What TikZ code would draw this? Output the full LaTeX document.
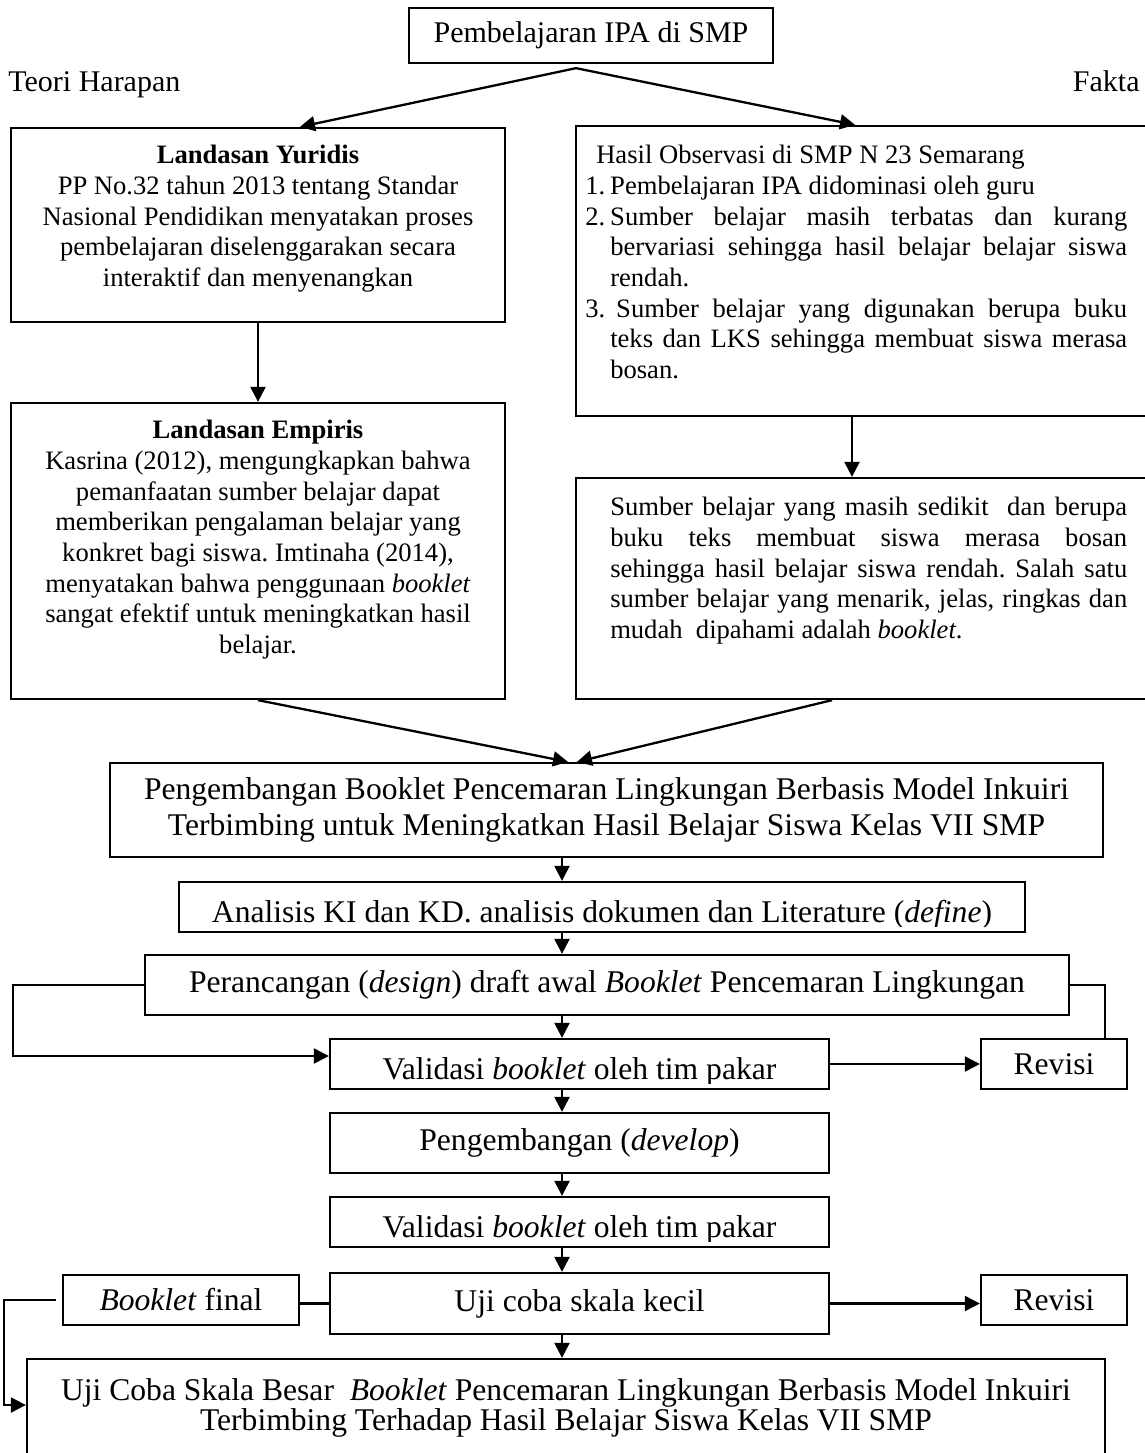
\documentclass[tikz,border=0pt]{standalone}
\usepackage{fontspec}
\setmainfont{Liberation Serif}
\usetikzlibrary{arrows.meta}
\begin{document}
\begin{tikzpicture}[x=0.5pt,y=-0.5pt,
  box/.style={draw,line width=1.15pt,inner sep=0pt,align=center},
  conn/.style={line width=1.15pt},
  arr/.style={conn,-{Triangle[length=7.5pt,width=7.5pt]}},
  body/.style={font=\fontsize{13.3pt}{15.35pt}\selectfont\frenchspacing},
  big/.style={font=\fontsize{15.8pt}{18.2pt}\selectfont\frenchspacing},
  lab/.style={font=\fontsize{15pt}{17.25pt}\selectfont},
  txt/.style={inner sep=0pt},
]
\useasboundingbox (0,0) rectangle (1145,1453);

% top
\node[box,lab,minimum width=182pt,minimum height=27.5pt] (top) at (591,35.5) {Pembelajaran IPA di SMP};
\node[lab,txt,anchor=base west] (teori) at (8,91) {Teori Harapan};
\node[lab,txt,anchor=base east] (fakta) at (1140,91) {Fakta};

% left column
\node[box,minimum width=247pt,minimum height=97pt] (yur) at (258,225) {};
\node[body,txt,align=center,anchor=north] (yurt) at ([yshift=-9pt]yur.north)
  {\textbf{Landasan Yuridis}\\PP No.32 tahun 2013 tentang Standar\\Nasional Pendidikan menyatakan proses\\pembelajaran diselenggarakan secara\\interaktif dan menyenangkan};

\node[box,minimum width=247pt,minimum height=148pt] (emp) at (258,551) {};
\node[body,txt,align=center,anchor=north] (empt) at ([yshift=-9pt]emp.north)
  {\textbf{Landasan Empiris}\\Kasrina (2012), mengungkapkan bahwa\\pemanfaatan sumber belajar dapat\\memberikan pengalaman belajar yang\\konkret bagi siswa. Imtinaha (2014),\\menyatakan bahwa penggunaan \emph{booklet}\\sangat efektif untuk meningkatkan hasil\\belajar.};

% right column
\node[box,minimum width=292pt,minimum height=145pt] (has) at (868,271) {};
\node[body,txt,align=left,anchor=north west] (hast) at ([xshift=5pt,yshift=-10pt]has.north west)
  {\hspace*{5.5pt}Hasil Observasi di SMP N 23 Semarang\\
   \makebox[12.5pt][l]{1.}Pembelajaran IPA didominasi oleh guru\\
   \makebox[12.5pt][l]{2.}\makebox[258.5pt][s]{Sumber belajar masih terbatas dan kurang}\\
   \hspace*{12.5pt}\makebox[258.5pt][s]{bervariasi sehingga hasil belajar belajar siswa}\\
   \hspace*{12.5pt}rendah.\\
   \makebox[12.5pt][l]{3.}\makebox[258.5pt][s]{\hspace{3pt}Sumber belajar yang digunakan berupa buku}\\
   \hspace*{12.5pt}\makebox[258.5pt][s]{teks dan LKS sehingga membuat siswa merasa}\\
   \hspace*{12.5pt}bosan.};

\node[box,minimum width=292pt,minimum height=110.5pt] (sum) at (868,588.5) {};
\node[body,txt,align=left,anchor=north west] (sumt) at ([xshift=17.5pt,yshift=-10pt]sum.north west)
  {\makebox[258.5pt][s]{Sumber belajar yang masih sedikit\ \ dan berupa}\\
   \makebox[258.5pt][s]{buku teks membuat siswa merasa bosan}\\
   \makebox[258.5pt][s]{sehingga hasil belajar siswa rendah. Salah satu}\\
   \makebox[258.5pt][s]{sumber belajar yang menarik, jelas, ringkas dan}\\
   mudah\ \ dipahami adalah \emph{booklet}.};

% lower chain
\node[box,big,minimum width=496.5pt,minimum height=47pt] (big) at (606.5,810)
  {Pengembangan Booklet Pencemaran Lingkungan Berbasis Model Inkuiri\\Terbimbing untuk Meningkatkan Hasil Belajar Siswa Kelas VII SMP};
\node[box,minimum width=423pt,minimum height=25pt] (ana) at (602,907) {};
\begin{scope}
  \clip (ana.north west) rectangle ([yshift=3.5pt]ana.south east);
  \node[big,txt,anchor=base] (anat) at ([yshift=5.5pt]ana.south) {Analisis KI dan KD. analisis dokumen dan Literature (\emph{define})};
\end{scope}
\node[box,big,minimum width=462pt,minimum height=30pt] (per) at (607,985)
  {Perancangan (\emph{design}) draft awal \emph{Booklet} Pencemaran Lingkungan};
\node[box,minimum width=249.5pt,minimum height=25pt] (val1) at (579.5,1064) {};
\begin{scope}
  \clip (val1.north west) rectangle ([yshift=3.5pt]val1.south east);
  \node[big,txt,anchor=base] (val1t) at ([yshift=5.5pt]val1.south) {Validasi \emph{booklet} oleh tim pakar};
\end{scope}
\node[box,big,minimum width=73pt,minimum height=25pt] (rev1) at (1054,1064) {Revisi};
\node[box,big,minimum width=249.5pt,minimum height=30pt] (dev) at (579.5,1143) {Pengembangan (\emph{develop})};
\node[box,minimum width=249.5pt,minimum height=25pt] (val2) at (579.5,1222) {};
\begin{scope}
  \clip (val2.north west) rectangle ([yshift=3.5pt]val2.south east);
  \node[big,txt,anchor=base] (val2t) at ([yshift=5.5pt]val2.south) {Validasi \emph{booklet} oleh tim pakar};
\end{scope}
\node[box,big,minimum width=249.5pt,minimum height=30.5pt] (uji) at (579.5,1303.5) {Uji coba skala kecil};
\node[box,big,minimum width=73pt,minimum height=25pt] (rev2) at (1054,1300) {Revisi};
\node[box,big,minimum width=118pt,minimum height=25pt] (fin) at (181,1300) {\emph{Booklet} final};
\node[box,minimum width=539pt,minimum height=60.5pt] (bes) at (566,1419.5) {};
\node[txt,align=center,font=\fontsize{15.8pt}{15pt}\selectfont] (best) at (566,1408)
  {Uji Coba Skala Besar\ \ \emph{Booklet} Pencemaran Lingkungan Berbasis Model Inkuiri\\Terbimbing Terhadap Hasil Belajar Siswa Kelas VII SMP};

% connectors
\coordinate (apex) at ([xshift=-7.5pt,yshift=-2pt]top.south);
\draw[arr] (apex) -- ([xshift=21pt]yur.north);
\draw[arr] (apex) -- ([xshift=-6.5pt]has.north);
\draw[arr] (yur.south) -- (emp.north);
\draw[arr] ([xshift=-8pt]has.south) -- ([xshift=-8pt]sum.north);
\draw[arr] (emp.south) -- ([xshift=-19.25pt]big.north);
\draw[arr] ([xshift=-18pt]sum.south) -- ([xshift=-14.75pt]big.north);

\coordinate (spine) at (562,0);
\draw[arr] (big.south -| spine) -- (ana.north -| spine);
\draw[arr] (ana.south -| spine) -- (per.north -| spine);
\draw[arr] (per.south -| spine) -- (val1.north -| spine);
\draw[arr] (val1.south -| spine) -- (dev.north -| spine);
\draw[arr] (dev.south -| spine) -- (val2.north -| spine);
\draw[arr] (val2.south -| spine) -- (uji.north -| spine);
\draw[arr] (uji.south -| spine) -- (bes.north -| spine);

\draw[arr] (per.west) -- ++(-131,0) |- ([yshift=4pt]val1.west);
\draw[conn] (per.east) -| ([xshift=25.5pt]rev1.north);
\draw[arr] (val1.east) -- (rev1.west);

\draw[arr] (uji.east) -- (uji.east -| rev2.west);
\draw[conn] (uji.west) -- (uji.west -| fin.east);
\draw[arr] ([xshift=-3pt]fin.west) -- ++(-52,0) |- ([yshift=7.25pt]bes.west);
\end{tikzpicture}
\end{document}
